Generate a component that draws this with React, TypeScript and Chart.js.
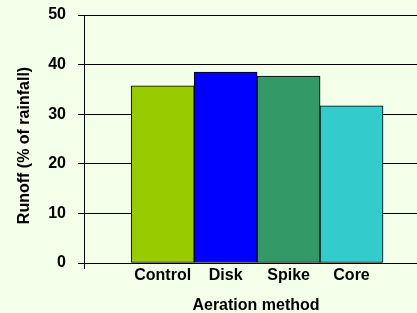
import React, { useEffect, useRef } from 'react';
import { Chart, registerables } from 'chart.js';

Chart.register(...registerables);

const categories = ['Control', 'Disk', 'Spike', 'Core'];
const runoff = [35.7, 38.5, 37.7, 31.7];
const barColors = ['#99CC00', '#0000FF', '#339966', '#33CCCC'];
const yTicks = [0, 10, 20, 30, 40, 50];
const xTitle = 'Aeration method';
const yTitle = 'Runoff (% of rainfall)';

const FONT = '"Liberation Sans", Arial, sans-serif';
const BG = '#F3FFE9';

export default function App() {
  const ref = useRef<HTMLCanvasElement>(null);

  useEffect(() => {
    if (!ref.current) return;
    const bgPlugin = {
      id: 'bg',
      beforeDraw(chart: any) {
        const { ctx, width, height } = chart;
        ctx.save();
        ctx.fillStyle = BG;
        ctx.fillRect(0, 0, width, height);
        ctx.restore();
      },
    };
    const titlesPlugin = {
      id: 'axisTitles',
      afterDraw(chart: any) {
        const ctx = chart.ctx;
        ctx.save();
        ctx.fillStyle = '#000';
        ctx.font = `bold 16px ${FONT}`;
        ctx.textAlign = 'center';
        ctx.textBaseline = 'middle';
        ctx.fillText(xTitle, 256, 306);
        ctx.translate(24.5, 145.5);
        ctx.rotate(-Math.PI / 2);
        ctx.fillText(yTitle, 0, 0);
        ctx.restore();
      },
    };
    const tickFont = { family: FONT, size: 16, weight: 'bold' as const, lineHeight: 1 };
    const chart = new Chart(ref.current, {
      type: 'bar',
      data: {
        datasets: [
          {
            data: categories.map((c, i) => ({ x: i + 1, y: runoff[i] })),
            backgroundColor: barColors,
            borderColor: '#000',
            borderWidth: 1,
            borderSkipped: false,
            barThickness: 63,
          } as any,
        ],
      },
      options: {
        responsive: false,
        animation: false,
        devicePixelRatio: 1,
        layout: { padding: { top: 15, right: 0, bottom: 0, left: 0 } },
        plugins: { legend: { display: false }, tooltip: { enabled: false } },
        scales: {
          x: {
            type: 'linear',
            offset: false,
            min: -0.25,
            max: 5.04,
            afterBuildTicks: (s: any) => {
              s.ticks = [{ value: s.min }, ...categories.map((_, i) => ({ value: i + 1 }))];
            },
            afterFit: (s: any) => {
              s.height = 50;
              s.paddingLeft = 0;
              s.paddingRight = 0;
            },
            ticks: {
              callback: (v: any) => categories[v - 1] ?? '',
              font: tickFont,
              color: '#000',
              padding: -1,
              maxRotation: 0,
              autoSkip: false,
            },
            grid: {
              offset: false,
              drawOnChartArea: false,
              tickLength: 6,
              color: (ctx: any) => (ctx.index === 0 ? '#000' : 'rgba(0,0,0,0)'),
            },
            border: { display: true, color: '#000' },
          },
          y: {
            min: 0,
            max: 50,
            afterBuildTicks: (s: any) => {
              s.ticks = yTicks.map((v) => ({ value: v }));
            },
            afterFit: (s: any) => {
              s.width = 84;
              s.paddingTop = 0;
              s.paddingBottom = 0;
            },
            ticks: { font: tickFont, color: '#000', padding: 12 },
            grid: { color: '#000', tickLength: 6 },
            border: { display: true, color: '#000' },
          },
        },
      },
      plugins: [bgPlugin, titlesPlugin],
    } as any);
    return () => chart.destroy();
  }, []);

  return (
    <canvas
      ref={ref}
      width={417}
      height={313}
      style={{ position: 'absolute', left: 0, top: 0, width: 417, height: 313 }}
    />
  );
}
